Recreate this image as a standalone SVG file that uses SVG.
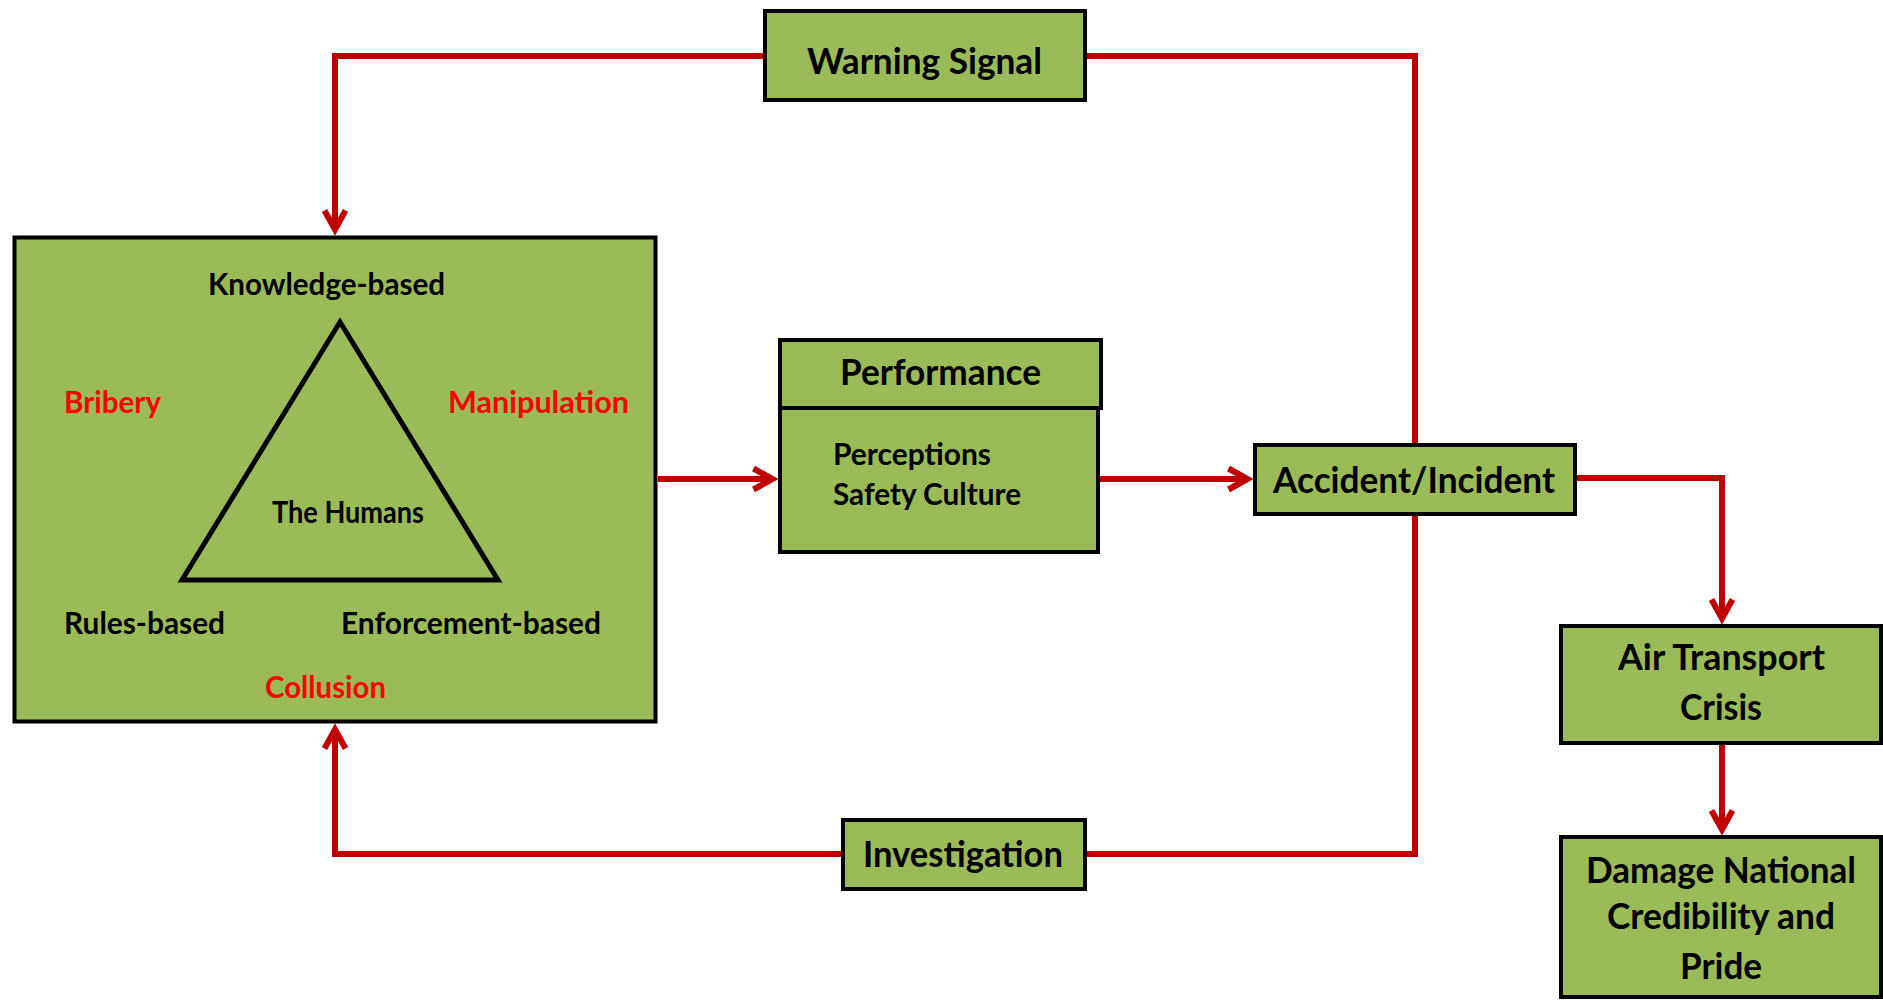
<svg xmlns="http://www.w3.org/2000/svg" width="1883" height="1000" viewBox="0 0 1883 1000">
  <style>
    .box { fill: #9BBB59; stroke: #000; stroke-width: 4; }
    .lbl { font-family: Lato, "Liberation Sans", sans-serif; font-weight: bold; font-size: 36px; fill: #000; }
    .in  { font-family: Lato, "Liberation Sans", sans-serif; font-weight: bold; font-size: 30px; fill: #000; }
    .red { fill: #FF0000; }
    .link { fill: none; stroke: #C00000; stroke-width: 6; stroke-linejoin: miter; }
    .arr  { marker-end: url(#head); }
  </style>
  <defs>
    <marker id="head" markerUnits="userSpaceOnUse" viewBox="-24 -14 34 28" markerWidth="34" markerHeight="28" refX="0" refY="0" orient="auto" overflow="visible">
      <path d="M-18.5,-10.5 L0.5,0 L-18.5,10.5" fill="none" stroke="#C00000" stroke-width="6" stroke-linejoin="miter"/>
    </marker>
  </defs>

  <rect width="1883" height="1000" fill="#fff"/>

  <!-- connectors -->
  <g id="connectors">
    <path class="link arr" d="M763 56 H335 V229"/>
    <path class="link" d="M1415 443 V56 H1087"/>
    <path class="link" d="M1415 516 V854 H1087"/>
    <path class="link arr" d="M841 854 H335 V730"/>
    <path class="link arr" d="M658 479 H772"/>
    <path class="link arr" d="M1100 479 H1247"/>
    <path class="link arr" d="M1577 478 H1722 V618"/>
    <path class="link arr" d="M1722 745 V829"/>
  </g>

  <!-- human factors block -->
  <g id="humans">
    <rect class="box" x="14.5" y="237.5" width="641" height="484" stroke-width="5"/>
    <polygon points="340,322 182,580 498,580" fill="none" stroke="#000" stroke-width="5" stroke-linejoin="miter"/>
    <text class="in" x="208" y="295" textLength="237" lengthAdjust="spacingAndGlyphs">Knowledge-based</text>
    <text class="in red" x="64" y="413" textLength="97" lengthAdjust="spacingAndGlyphs">Bribery</text>
    <text class="in red" x="448" y="413" textLength="181" lengthAdjust="spacingAndGlyphs">Manipulation</text>
    <text class="in" x="272" y="523" font-size="28" textLength="152" lengthAdjust="spacingAndGlyphs">The Humans</text>
    <text class="in" x="64" y="634" textLength="161" lengthAdjust="spacingAndGlyphs">Rules-based</text>
    <text class="in" x="341" y="634" textLength="260" lengthAdjust="spacingAndGlyphs">Enforcement-based</text>
    <text class="in red" x="265" y="698" textLength="121" lengthAdjust="spacingAndGlyphs">Collusion</text>
  </g>

  <g id="warning-signal">
    <rect class="box" x="765" y="11" width="320" height="89"/>
    <text class="lbl" x="807" y="74" textLength="235" lengthAdjust="spacingAndGlyphs">Warning Signal</text>
  </g>

  <g id="performance">
    <rect class="box" x="780" y="340" width="321" height="68"/>
    <rect class="box" x="780" y="408" width="318" height="144"/>
    <text class="lbl" x="840" y="385" textLength="201" lengthAdjust="spacingAndGlyphs">Performance</text>
    <text class="in" x="833" y="465" textLength="158" lengthAdjust="spacingAndGlyphs">Perceptions</text>
    <text class="in" x="833" y="505" textLength="188" lengthAdjust="spacingAndGlyphs">Safety Culture</text>
  </g>

  <g id="accident">
    <rect class="box" x="1255" y="445" width="320" height="69"/>
    <text class="lbl" x="1273" y="493" textLength="282" lengthAdjust="spacingAndGlyphs">Accident/Incident</text>
  </g>

  <g id="investigation">
    <rect class="box" x="843" y="820" width="242" height="69"/>
    <text class="lbl" x="863" y="867" textLength="200" lengthAdjust="spacingAndGlyphs">Investigation</text>
  </g>

  <g id="crisis">
    <rect class="box" x="1561" y="626" width="320" height="117"/>
    <text class="lbl" x="1618" y="670" textLength="207" lengthAdjust="spacingAndGlyphs">Air Transport</text>
    <text class="lbl" x="1680" y="720" textLength="82" lengthAdjust="spacingAndGlyphs">Crisis</text>
  </g>

  <g id="damage">
    <rect class="box" x="1561" y="837" width="320" height="160"/>
    <text class="lbl" x="1586" y="883" textLength="270" lengthAdjust="spacingAndGlyphs">Damage National</text>
    <text class="lbl" x="1607" y="929" textLength="228" lengthAdjust="spacingAndGlyphs">Credibility and</text>
    <text class="lbl" x="1680" y="979" textLength="82" lengthAdjust="spacingAndGlyphs">Pride</text>
  </g>
</svg>
